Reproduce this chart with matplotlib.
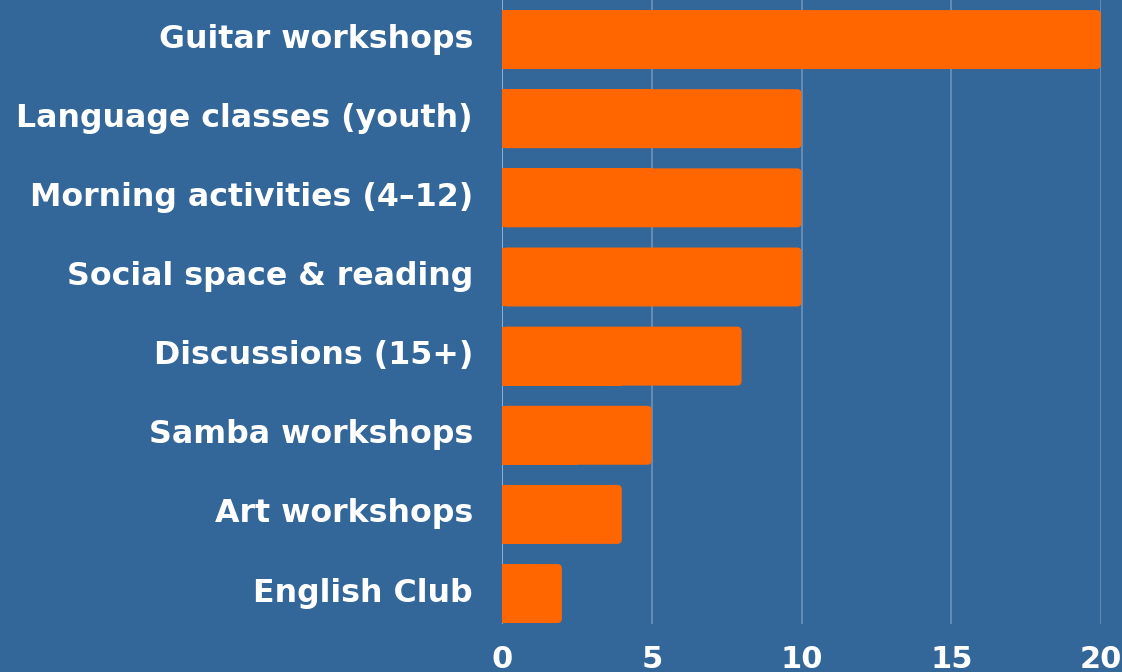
import matplotlib
matplotlib.use("Agg")
import matplotlib.pyplot as plt
from matplotlib.patches import FancyBboxPatch, Rectangle

labels = ["Guitar workshops", "Language classes (youth)", "Morning activities (4\u201312)",
          "Social space & reading", "Discussions (15+)", "Samba workshops",
          "Art workshops", "English Club"]
values = [20, 10, 10, 10, 8, 5, 4, 2]
ticks = [0, 5, 10, 15, 20]

bg = "#336699"
orange = "#ff6600"

plt.rcParams['font.family'] = ['DejaVu Sans']

fig = plt.figure(figsize=(11.22, 6.72), dpi=100, facecolor=bg)
ax = fig.add_axes([502/1122, 1-624/672, 599/1122, 624/672])
ax.set_facecolor(bg)
ax.set_xlim(0, 20)
ax.set_ylim(7.385, -0.5)

for t in ticks[1:]:
    ax.axvline(t, color="#6f93bd", lw=1.2, zorder=1)
ax.axvline(0, color="#9dbde0", lw=1.2, zorder=1)

h = 0.745
asp = (1/79.14) / (1/30.0)
for i, v in enumerate(values):
    r = 0.15
    ax.add_patch(FancyBboxPatch((0, i - h/2), v, h,
                                boxstyle="round,pad=0,rounding_size=%g" % r,
                                mutation_aspect=asp, fc=orange, ec="none", zorder=2))
    ax.add_patch(Rectangle((0, i - h/2), v/2, h, fc=orange, ec="none", zorder=2))

# category labels, a bit left of the axis
ax.set_yticks(range(len(labels)))
ax.set_yticklabels([])
for i, lab in enumerate(labels):
    ax.annotate(lab, xy=(0, i), xycoords=("axes fraction", "data"),
                xytext=(-29*0.72, 0.5*0.72), textcoords="offset points",
                ha="right", va="center", fontsize=22.8, fontweight="bold",
                color="white", annotation_clip=False)

ax.set_xticks(ticks)
ax.set_xticklabels([str(t) for t in ticks], fontsize=22, fontweight="bold", color="white")
ax.tick_params(axis="y", length=0)
ax.tick_params(axis="x", length=0, pad=15)
for s in ax.spines.values():
    s.set_visible(False)

fig.savefig("out.png", dpi=100, facecolor=bg)
